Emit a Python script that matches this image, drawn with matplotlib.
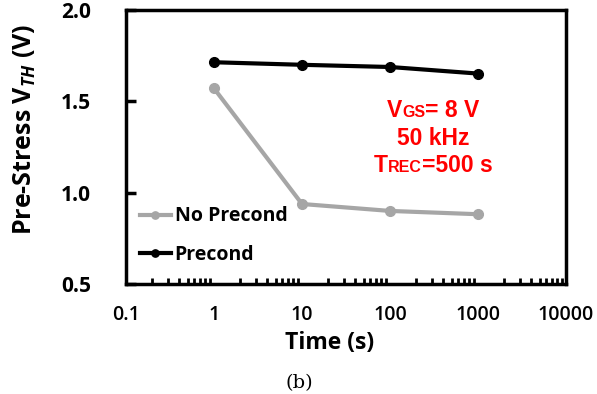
import matplotlib
matplotlib.use("Agg")
import matplotlib.pyplot as plt
from matplotlib.ticker import LogLocator, NullFormatter, FixedLocator
from matplotlib.offsetbox import TextArea, HPacker, VPacker, AnchoredOffsetbox

time_s = [1, 10, 100, 1000]
no_precond = [1.571, 0.938, 0.900, 0.882]
precond = [1.714, 1.700, 1.688, 1.652]
x_ticks = [0.1, 1, 10, 100, 1000, 10000]
x_labels = ["0.1", "1", "10", "100", "1000", "10000"]
y_ticks = [0.5, 1.0, 1.5, 2.0]
y_labels = ["0.5", "1.0", "1.5", "2.0"]

plt.rcParams['font.family'] = ['Open Sans', 'DejaVu Sans']
plt.rcParams['mathtext.fontset'] = 'custom'
plt.rcParams['mathtext.rm'] = 'Open Sans:bold'
plt.rcParams['mathtext.it'] = 'Open Sans:italic:bold'

W, H = 597, 394
fig = plt.figure(figsize=(W/100, H/100), dpi=100)
L, R, T, B = 126, 566, 10, 284
ax = fig.add_axes([L/W, 1-B/H, (R-L)/W, (B-T)/H])

ax.plot(time_s, no_precond, color="#a6a6a6", lw=3, marker="o", ms=7, label="No Precond")
ax.plot(time_s, precond, color="black", lw=3, marker="o", ms=7, label="Precond")

ax.set_xscale("log")
ax.set_xlim(0.1, 10000)
ax.set_ylim(0.5, 2.0)
ax.xaxis.set_major_locator(FixedLocator(x_ticks))
ax.set_xticklabels(x_labels)
ax.xaxis.set_minor_locator(LogLocator(base=10, subs=range(2, 10), numticks=20))
ax.xaxis.set_minor_formatter(NullFormatter())
ax.set_yticks(y_ticks)
ax.set_yticklabels(y_labels)

for s in ax.spines.values():
    s.set_linewidth(2.5)
ax.tick_params(axis="x", which="major", length=0, labelsize=14, pad=15)
ax.tick_params(axis="x", which="minor", direction="in", length=4, width=2)
ax.tick_params(axis="y", which="major", direction="in", length=7, width=2.5, labelsize=15, pad=25)
for lab in ax.get_yticklabels():
    lab.set_fontweight("bold")
for lab in ax.get_xticklabels():
    lab.set_fontweight("semibold")

ax.set_xlabel("Time (s)", fontsize=16.5, fontweight="bold")
ax.xaxis.set_label_coords((330-L)/(R-L), (B-343)/(B-T))
ax.xaxis.label.set_va("center")
ax.set_ylabel(r"Pre-Stress V$_{\mathit{TH}}$ (V)", fontsize=18, fontweight="bold")
ax.yaxis.set_label_coords((25-L)/(R-L), (B-129)/(B-T))
ax.yaxis.label.set_va("center")

leg = ax.legend(loc="lower left", bbox_to_anchor=(0.0, 0.02), frameon=False, fontsize=14,
                handlelength=1.6, handletextpad=0.2, labelspacing=0.95, markerscale=0.75,
                borderaxespad=0.3)
for t in leg.get_texts():
    t.set_fontweight("bold")

red = "#ff0000"
def ta(s, size):
    return TextArea(s, textprops=dict(color=red, fontsize=size, fontweight="bold", family="Liberation Sans"))

big, small = 16.5, 11.5
row1 = HPacker(children=[ta("V", big), ta("GS", small), ta("= 8 V", big)], align="baseline", pad=0, sep=0)
row2 = HPacker(children=[ta("50 kHz", big)], align="baseline", pad=0, sep=0)
row3 = HPacker(children=[ta("T", big), ta("REC", small), ta("=500 s", big)], align="baseline", pad=0, sep=0)
box = VPacker(children=[row1, row2, row3], align="center", pad=0, sep=3)
anch = AnchoredOffsetbox(loc="center", child=box, frameon=False, pad=0, borderpad=0,
                         bbox_to_anchor=(433/W, 1-138/H), bbox_transform=fig.transFigure)
fig.add_artist(anch)

fig.text(299/W, 1-383/H, "(b)", fontsize=14, family="DejaVu Serif", ha="center", va="center")

fig.savefig("out.png", dpi=100)
